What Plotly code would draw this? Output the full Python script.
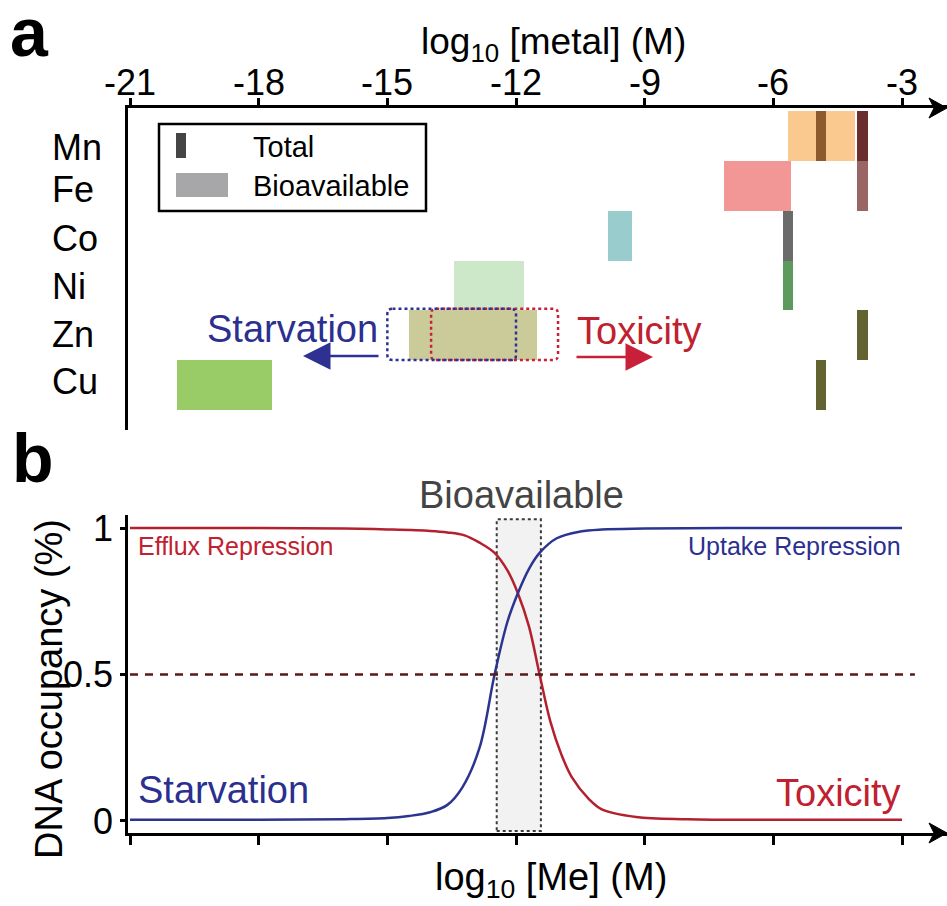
import plotly.graph_objects as go

# ---------------- data ----------------
metals = ["Mn", "Fe", "Co", "Ni", "Zn", "Cu"]
bio_lo = [-5.66, -7.15, -9.86, -13.45, -14.50, -19.90]
bio_hi = [-4.10, -5.59, -9.30, -11.82, -11.52, -17.69]
bio_colors = ["#F9C98F", "#F29696", "#99CCCC", "#CDE8C9", "#CBCB9A", "#99CC66"]

total_metal = ["Mn", "Mn", "Fe", "Co", "Ni", "Zn", "Cu"]
total_lo = [-5.01, -4.05, -4.05, -5.78, -5.78, -4.05, -5.01]
total_hi = [-4.78, -3.80, -3.80, -5.55, -5.55, -3.80, -4.78]
total_colors = ["#8C5A2C", "#6A2E2E", "#9A6565", "#6B6B6B", "#5E9A5E", "#636331", "#636331"]

zn_starvation_window = [-15.0, -12.0]
zn_toxicity_window = [-13.98, -11.02]

tick_vals = [-21, -18, -15, -12, -9, -6, -3]
tick_text = ["-21", "-18", "-15", "-12", "-9", "-6", "-3"]

uptake_x = [-21, -18, -16, -15, -14.5, -14, -13.6, -13.25, -12.85, -12.5, -12.2, -11.95,
            -11.7, -11.45, -11.05, -10.5, -10, -9, -6, -3]
uptake_y = [0.004, 0.004, 0.006, 0.01, 0.017, 0.03, 0.055, 0.115, 0.25, 0.5, 0.68, 0.78,
            0.86, 0.915, 0.965, 0.988, 0.995, 0.998, 1.0, 1.0]

efflux_x = [-21, -18, -16, -15, -14, -13.6, -13.2, -12.85, -12.5, -12.2, -11.95, -11.7,
            -11.45, -11.2, -10.95, -10.7, -10.3, -10.0, -9.2, -8.0, -6, -3]
efflux_y = [1.0, 1.0, 0.998, 0.995, 0.99, 0.985, 0.975, 0.95, 0.915, 0.855, 0.775, 0.665,
            0.5, 0.34, 0.23, 0.15, 0.075, 0.04, 0.014, 0.006, 0.004, 0.004]

bio_window = [-12.45, -11.42]
half_occupancy = 0.5
dash_end = -2.7

# ---------------- layout helpers ----------------
W, H = 947, 906
FONT = "Liberation Sans, Arial, Helvetica, sans-serif"
BLUE = "#2B2F8F"
RED = "#C0202F"


def px(x):
    return x / W


def py(y):
    return 1 - y / H


X_RANGE = [-21 - 2 / 42.89, -21 + 817 / 42.89]
row = {m: i for i, m in enumerate(metals)}

fig = go.Figure()

# panel a bars
fig.add_trace(go.Bar(
    orientation="h", y=[row[m] for m in metals],
    x=[h - l for l, h in zip(bio_lo, bio_hi)], base=bio_lo,
    marker=dict(color=bio_colors, line=dict(width=0)), width=1.0,
    xaxis="x", yaxis="y", showlegend=False))
fig.add_trace(go.Bar(
    orientation="h", y=[row[m] for m in total_metal],
    x=[h - l for l, h in zip(total_lo, total_hi)], base=total_lo,
    marker=dict(color=total_colors, line=dict(width=0)), width=1.0,
    xaxis="x", yaxis="y", showlegend=False))

# panel b curves
fig.add_trace(go.Scatter(x=efflux_x, y=efflux_y, mode="lines",
                         line=dict(color="#B3202E", width=2.5, shape="spline", smoothing=1.0),
                         xaxis="x2", yaxis="y2", showlegend=False))
fig.add_trace(go.Scatter(x=uptake_x, y=uptake_y, mode="lines",
                         line=dict(color="#2B3590", width=2.5, shape="spline", smoothing=1.0),
                         xaxis="x2", yaxis="y2", showlegend=False))

shapes = []


def rounded(x0, x1, y0, y1, rx=0.12, ry=0.1):
    return (f"M {x0+rx},{y0} L {x1-rx},{y0} Q {x1},{y0} {x1},{y0+ry} "
            f"L {x1},{y1-ry} Q {x1},{y1} {x1-rx},{y1} L {x0+rx},{y1} "
            f"Q {x0},{y1} {x0},{y1-ry} L {x0},{y0+ry} Q {x0},{y0} {x0+rx},{y0} Z")


zn = row["Zn"]
shapes.append(dict(type="path", xref="x", yref="y",
                   path=rounded(zn_toxicity_window[0], zn_toxicity_window[1], zn - 0.53, zn + 0.5),
                   line=dict(color="#C8203A", width=2.5, dash="dot")))
shapes.append(dict(type="path", xref="x", yref="y",
                   path=rounded(zn_starvation_window[0], zn_starvation_window[1], zn - 0.53, zn + 0.5),
                   line=dict(color="#2E3192", width=2.5, dash="dot")))

# panel b bioavailable window and half line
shapes.append(dict(type="rect", xref="x2", yref="y2", layer="below",
                   x0=bio_window[0], x1=bio_window[1], y0=-0.034, y1=1.03,
                   fillcolor="#F2F2F2", line=dict(color="#3A3A3A", width=2, dash="dot")))
shapes.append(dict(type="line", xref="x2", yref="y2",
                   x0=tick_vals[0], x1=dash_end, y0=half_occupancy, y1=half_occupancy,
                   line=dict(color="#5A1A1A", width=2.5, dash="8px,7px")))

# axis arrowheads
for yy in (108, 833):
    shapes.append(dict(type="path", xref="paper", yref="paper",
                       path=f"M {px(929)},{py(yy-10)} L {px(947)},{py(yy)} L {px(929)},{py(yy+10)} L {px(934)},{py(yy)} Z",
                       fillcolor="black", line=dict(color="black", width=1)))

# legend box
shapes.append(dict(type="rect", xref="paper", yref="paper",
                   x0=px(159), x1=px(426), y0=py(124), y1=py(211),
                   line=dict(color="black", width=2.5), fillcolor="rgba(0,0,0,0)"))
shapes.append(dict(type="rect", xref="paper", yref="paper",
                   x0=px(176), x1=px(186), y0=py(133), y1=py(158),
                   line=dict(width=0), fillcolor="#454545"))
shapes.append(dict(type="rect", xref="paper", yref="paper",
                   x0=px(176), x1=px(228), y0=py(173), y1=py(197),
                   line=dict(width=0), fillcolor="#A7A7A9"))

ann = []


def text(t, x, y, size, color="black", xanchor="center", yanchor="middle", **kw):
    ann.append(dict(text=t, x=px(x), y=py(y), xref="paper", yref="paper", showarrow=False,
                    xanchor=xanchor, yanchor=yanchor,
                    font=dict(family=FONT, size=size, color=color), **kw))


# top-axis tick labels placed on the data scale
for v, t in zip(tick_vals, tick_text):
    ann.append(dict(text=t, x=v, xref="x", y=py(82), yref="paper", showarrow=False,
                    xanchor="center", yanchor="middle",
                    font=dict(family=FONT, size=36, color="black")))

text("<b>a</b>", 8, 32, 68, xanchor="left")
text("<b>b</b>", 10, 458, 68, xanchor="left")
text("log<sub>10</sub> [metal] (M)", 553, 44, 37)
label_y = [147, 190, 238, 286, 334, 381]
for m, yy in zip(metals, label_y):
    text(m, 50, yy, 36, xanchor="left")
text("Total", 251, 147, 29, xanchor="left")
text("Bioavailable", 251, 186, 29, xanchor="left")
text("Starvation", 380, 329, 38, BLUE, xanchor="right")
text("Toxicity", 575, 331, 38, RED, xanchor="left")

# panel a arrows
ann.append(dict(x=px(303), y=py(356), xref="paper", yref="paper", ax=77, ay=0,
                showarrow=True, arrowhead=2, arrowsize=2.2, arrowwidth=2.5,
                arrowcolor="#2E3192", text=""))
ann.append(dict(x=px(653), y=py(357), xref="paper", yref="paper", ax=-78, ay=0,
                showarrow=True, arrowhead=2, arrowsize=2.2, arrowwidth=2.5,
                arrowcolor="#C8203A", text=""))

# panel b texts
text("Bioavailable", 521, 495, 38, "#444444")
text("Efflux Repression", 136, 546, 25, RED, xanchor="left")
text("Uptake Repression", 903, 546, 25, BLUE, xanchor="right")
text("Starvation", 136, 790, 38, BLUE, xanchor="left")
text("Toxicity", 903, 793, 38, RED, xanchor="right")
text("DNA occupancy (%)", 49, 689, 38, textangle=-90)
text("log<sub>10</sub> [Me] (M)", 551, 880, 38)

axis_common = dict(showgrid=False, zeroline=False, linecolor="black", linewidth=2.5,
                   tickcolor="black", tickwidth=2.5, automargin=False)

fig.update_layout(
    width=W, height=H, margin=dict(l=0, r=0, t=0, b=0, autoexpand=False),
    paper_bgcolor="white", plot_bgcolor="rgba(0,0,0,0)",
    barmode="overlay", bargap=0,
    font=dict(family=FONT, color="black"),
    xaxis=dict(domain=[px(128), 1], range=X_RANGE, anchor="y", side="top",
               showline=True, ticks="outside", ticklen=7,
               tickvals=tick_vals, showticklabels=False, **axis_common),
    yaxis=dict(domain=[py(430), py(108)], range=[5.9036, -0.5622], anchor="x",
               showline=True, ticks="", showticklabels=False, **axis_common),
    xaxis2=dict(domain=[px(128), 1], range=X_RANGE, anchor="y2",
                showline=True, ticks="outside", ticklen=9, tickvals=tick_vals,
                showticklabels=False, **axis_common),
    yaxis2=dict(domain=[py(833), py(515)], range=[-0.041, 1.0444], anchor="x2",
                showline=True, ticks="outside", ticklen=5,
                tickvals=[0, 0.5, 1], ticktext=["0", "0.5", "1"],
                tickfont=dict(size=36, family=FONT), **axis_common),
    shapes=shapes, annotations=ann,
)

fig.write_html("out.html", config={"displayModeBar": False},
               post_script="document.body.style.margin='0';document.body.style.overflow='hidden';")
